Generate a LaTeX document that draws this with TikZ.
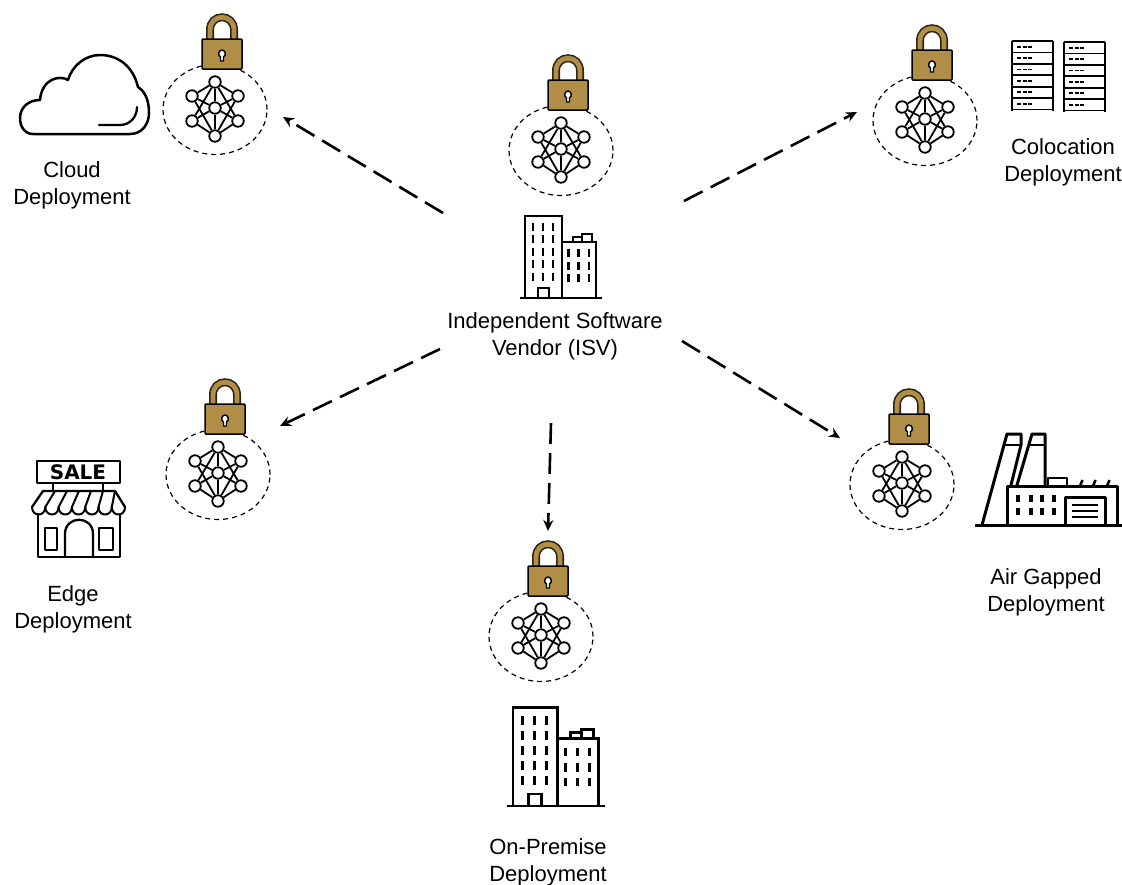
\documentclass[tikz,border=0pt]{standalone}
\usepackage{fontspec}
\setmainfont{Liberation Sans}
\newfontfamily\salefont{DejaVu Sans}
\usetikzlibrary{positioning, shapes.geometric, arrows.meta}
\definecolor{lockgold}{HTML}{B18E48}
\definecolor{shackledark}{HTML}{2B2416}
\tikzset{
  icon/.style={line width=2.3pt, line join=round, line cap=round},
  flow/.style={-{Stealth[length=11pt, width=10pt]}, line width=2.6pt, dash pattern=on 21pt off 9pt},
  deploytext/.style={align=center, inner sep=0pt, font=\fontsize{22}{27}\selectfont},
  ringline/.style={ellipse, draw, dash pattern=on 5pt off 4pt, line width=1.2pt, minimum width=104pt, minimum height=90pt, inner sep=0pt},
  netdot/.style={circle, draw, fill=white, line width=1.8pt, minimum size=11.5pt, inner sep=0pt},
  lockednet/.pic={
    \node[ringline] (-ring) at (0,1.5) {};
    \draw[shackledark, line width=8pt] (-5,-62) -- (-5,-78) .. controls (-5,-95) and (19,-95) .. (19,-78) -- (19,-62);
    \draw[lockgold, line width=4.8pt] (-5,-62) -- (-5,-78) .. controls (-5,-95) and (19,-95) .. (19,-78) -- (19,-62);
    \draw[fill=lockgold, line width=1.5pt, rounded corners=1pt] (-13,-69) rectangle (27,-39);
    \draw[fill=white, line width=1.4pt] (5.5,-51) -- (5.5,-47) -- (8.5,-47) -- (8.5,-51) .. controls (12,-53) and (10,-58) .. (7,-58) .. controls (4,-58) and (2,-53) .. (5.5,-51) -- cycle;
    \node[netdot] (-top) at (0,-26) {};
    \node[netdot] (-bot) at (0,28) {};
    \node[netdot] (-ul) at (-23,-12) {};
    \node[netdot] (-ur) at (23,-12) {};
    \node[netdot] (-ll) at (-23,13) {};
    \node[netdot] (-lr) at (23,13) {};
    \node[netdot] (-mid) at (0,0) {};
    \foreach \a/\b in {top/ul,top/ur,top/mid,top/ll,top/lr,bot/ll,bot/lr,bot/mid,bot/ul,bot/ur,ul/mid,ur/mid,ll/mid,lr/mid} {
      \draw[line width=1.8pt] (-\a) -- (-\b);
    }
  },
  officeblock/.pic={
    \draw[line join=miter] (-40,0) -- (42,0);
    \draw (-35,0) -- (-35,-82) -- (2,-82) -- (2,0);
    \draw (2,-56) -- (36,-56) -- (36,0);
    \draw (13,-56) -- (13,-61) -- (22,-61);
    \draw (22,-56) -- (22,-64) -- (32,-64) -- (32,-56);
    \draw (-22,0) -- (-22,-10) -- (-11,-10) -- (-11,0);
    \foreach \x in {-27,-17,-7} \foreach \y in {-71,-59,-46,-34,-21} {
      \fill ({\x-1.2},{\y-3.7}) rectangle ({\x+1.2},{\y+3.7});
    }
    \foreach \x in {8.5,18.5,29} \foreach \y in {-45,-32,-20} {
      \fill ({\x-1.2},{\y-3.7}) rectangle ({\x+1.2},{\y+3.7});
    }
  }
}

\begin{document}
\begin{tikzpicture}[x=1pt, y=-1pt]
\useasboundingbox (0,0) rectangle (1122,884);

\pic (cloudnet) at (215,108) {lockednet};
\pic (colonet) at (925,119) {lockednet};
\pic (vendornet) at (561,149) {lockednet};
\pic (edgenet) at (218,473) {lockednet};
\pic (airnet) at (902,483) {lockednet};
\pic (premnet) at (541,635) {lockednet};

\draw[icon, line width=2.5pt] (33,134) -- (130,134) .. controls (142,134) and (149,124) .. (149,113) .. controls (149,102) and (146,92) .. (138,87) .. controls (133,66) and (118,55) .. (100,55) .. controls (85,55) and (72,66) .. (68,80) .. controls (60,75) and (42,78) .. (40,100) .. controls (28,100) and (20,108) .. (20,118) .. controls (20,127) and (25,134) .. (33,134) -- cycle;
\draw[icon] (99,125) -- (120,125) .. controls (130,125) and (137,117) .. (137,107);
\coordinate (cloudfoot) at (72,134);
\node[deploytext, below=27pt of cloudfoot] (cloudtext) {Cloud\\Deployment};

\foreach \x/\y in {1012/41,1064/42} {
  \draw[icon, line width=2pt, line cap=butt] ({\x},{\y}) -- ({\x},{\y+70});
  \draw[icon, line width=2pt, line cap=butt] ({\x+41},{\y}) -- ({\x+41},{\y+70});
  \foreach \r in {0,...,6} {
    \draw[line width=1.8pt] ({\x},{\y+11.4*\r}) -- ({\x+41},{\y+11.4*\r});
  }
  \foreach \r in {0,...,5} {
    \draw[line width=1.7pt, dash pattern=on 4pt off 1.5pt] ({\x+5},{\y+5.7+11.4*\r}) -- ({\x+21},{\y+5.7+11.4*\r});
  }
}
\coordinate (colofoot) at (1063,111);
\node[deploytext, below=27pt of colofoot] (colotext) {Colocation\\Deployment};

\pic[line width=2.3pt] (vendorblock) at (560,298) {officeblock};
\coordinate (vendorfoot) at (555,298);
\node[deploytext, below=14pt of vendorfoot] (vendortext) {Independent Software\\Vendor (ISV)};

\draw[icon] (37,461) rectangle (120,483);
\node[inner sep=0pt, font=\salefont\bfseries\fontsize{20}{20}\selectfont] (saletext) at (78,472) {SALE};
\draw[icon] (53,483) -- (53,491);
\draw[icon] (103,483) -- (103,491);
\draw[icon] (32,507) -- (43,491) -- (115,491) -- (125,507);
\foreach \i in {0,...,6} {
  \draw[icon, line width=2pt] ({32+13.3*\i},507) .. controls ({32+13.3*\i},517) and ({45.3+13.3*\i},517) .. ({45.3+13.3*\i},507);
}
\foreach \i in {1,...,6} {
  \draw[icon, line width=2pt] ({32+13.3*\i},507) -- ({43+12*\i},491);
}
\draw[icon] (38,514) -- (38,557) -- (120,557) -- (120,514);
\draw[icon] (65,557) -- (65,534) .. controls (65,515) and (93,515) .. (93,534) -- (93,557);
\draw[icon] (45,528) rectangle (57,550);
\draw[icon] (99,528) rectangle (113,550);
\coordinate (edgefoot) at (73,557);
\node[deploytext, below=28pt of edgefoot] (edgetext) {Edge\\Deployment};

\draw[icon, line width=3pt] (982,525) -- (1007,434) -- (1021,434) -- (1021,445) -- (1011,485);
\draw[icon, line width=3pt] (1017,485) -- (1032,434) -- (1045,434) -- (1045,486);
\draw[icon, line width=2.4pt] (1005,445) -- (1021,445);
\draw[icon, line width=2.4pt] (1029,445) -- (1045,445);
\draw[icon, line width=3pt, line cap=butt] (975,525) -- (1122,525);
\draw[icon, line width=3pt] (1007,525) -- (1007,486) -- (1117,486) -- (1117,525);
\draw[icon, line width=2.6pt] (1048,486) -- (1048,478) -- (1067,478) -- (1067,486);
\foreach \x in {1080,1093,1107} {
  \draw[line width=2.6pt] ({\x},486) -- ({\x+2.5},480);
}
\foreach \x in {1018,1031,1042,1054} \foreach \y in {498,511} {
  \fill ({\x-2},{\y-3.5}) rectangle ({\x+2},{\y+3.5});
}
\draw[icon, line width=3pt] (1065,525) -- (1065,497) -- (1105,497) -- (1105,525);
\foreach \y in {505,511,517} {
  \draw[line width=2.6pt] (1072,\y) -- (1098,\y);
}
\coordinate (airfoot) at (1046,525);
\node[deploytext, below=43pt of airfoot] (airtext) {Air Gapped\\Deployment};

\pic[scale=1.2, line width=2.7pt] (premblock) at (555,806) {officeblock};
\coordinate (premfoot) at (548,806);
\node[deploytext, below=32pt of premfoot] (premtext) {On-Premise\\Deployment};

\coordinate (cloudtail) at (443,213);
\coordinate (cloudhead) at (283,117);
\coordinate (colotail) at (684,201);
\coordinate (colohead) at (857,112);
\coordinate (edgetail) at (440,349);
\coordinate (edgehead) at (280,426);
\coordinate (airtail) at (682,341);
\coordinate (airhead) at (840,438);
\coordinate (premtail) at (551,423);
\coordinate (premhead) at (548,531);
\draw[flow] (cloudtail) -- (cloudhead);
\draw[flow] (colotail) -- (colohead);
\draw[flow] (edgetail) -- (edgehead);
\draw[flow] (airtail) -- (airhead);
\draw[flow] (premtail) -- (premhead);
\end{tikzpicture}
\end{document}
